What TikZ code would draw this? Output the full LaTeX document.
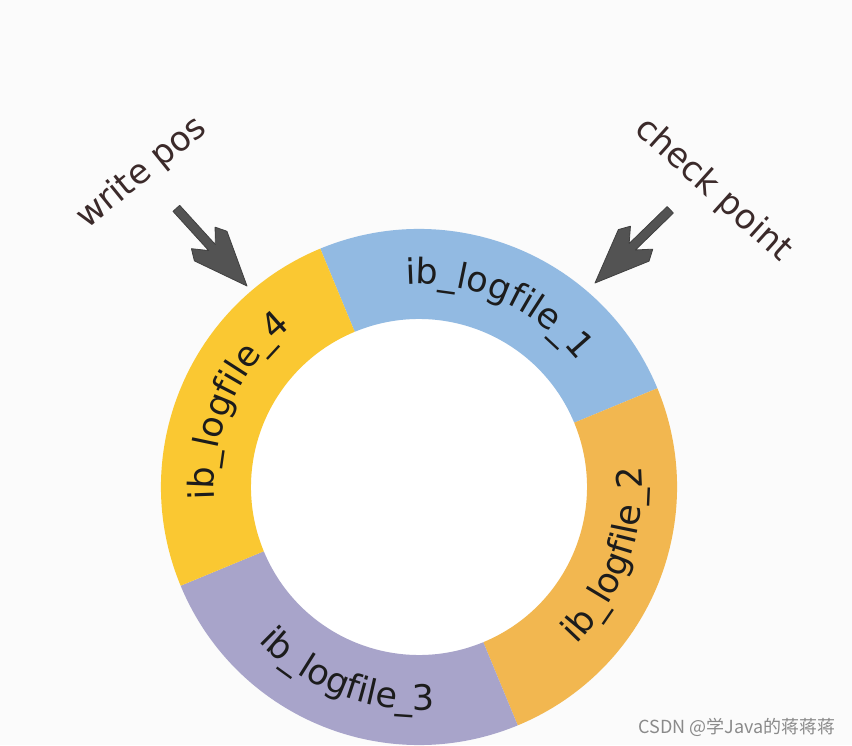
\documentclass[tikz,border=0pt]{standalone}
\usepackage{fontspec}
\setmainfont{DejaVu Sans}
\newfontfamily\cjkfont{Noto Sans CJK SC}
\usetikzlibrary{calc,decorations.text}
\definecolor{bgc}{HTML}{FBFBFB}
\definecolor{segblue}{HTML}{92BAE2}
\definecolor{segyellow}{HTML}{FAC832}
\definecolor{segorange}{HTML}{F2B750}
\definecolor{segpurple}{HTML}{A8A4CA}
\definecolor{ringtext}{HTML}{1C1C1C}
\definecolor{labtext}{HTML}{3B2A2A}
\definecolor{arrowgray}{HTML}{535353}
\definecolor{arrowdark}{HTML}{404040}
\definecolor{wmark}{HTML}{8A8A8A}
\newcommand{\ringfont}{\fontsize{35}{40}\selectfont}
\begin{document}
\begin{tikzpicture}[x=1pt,y=1pt,
  ringlabel/.style={decorate, decoration={text along path, text align=center, text color=ringtext}},
  sidelabel/.style={font=\fontsize{34}{40}\selectfont, text=labtext, inner sep=0pt},
  fatarrow/.pic={\fill[arrowgray, draw=arrowdark, line width=0.8pt, line join=round]
     (0,0) -- (-54,22) -- (-65,16) -- (-52,4.5) -- (-105,4.5) -- (-105,-4.5) -- (-52,-4.5) -- (-65,-16) -- (-54,-22) -- cycle;}
]
\fill[bgc] (0,0) rectangle (852,745);
\useasboundingbox (0,0) rectangle (852,745);
\coordinate (C) at (419,258);
\def\Ro{258}
\def\Ri{168}
\fill[white] (C) circle[radius=\Ri];
% segments
\fill[segblue] ($(C)+(112.5:\Ro)$) arc[start angle=112.5, end angle=22.5, radius=\Ro]
   -- ($(C)+(22.5:\Ri)$) arc[start angle=22.5, end angle=112.5, radius=\Ri] -- cycle;
\fill[segorange] ($(C)+(22.5:\Ro)$) arc[start angle=22.5, end angle=-67.5, radius=\Ro]
   -- ($(C)+(-67.5:\Ri)$) arc[start angle=-67.5, end angle=22.5, radius=\Ri] -- cycle;
\fill[segpurple] ($(C)+(-67.5:\Ro)$) arc[start angle=-67.5, end angle=-157.5, radius=\Ro]
   -- ($(C)+(-157.5:\Ri)$) arc[start angle=-157.5, end angle=-67.5, radius=\Ri] -- cycle;
\fill[segyellow] ($(C)+(202.5:\Ro)$) arc[start angle=202.5, end angle=112.5, radius=\Ro]
   -- ($(C)+(112.5:\Ri)$) arc[start angle=112.5, end angle=202.5, radius=\Ri] -- cycle;
% ring labels
\path[ringlabel, decoration={text={|\ringfont|ib{\_}logfile{\_}1}}]
  ($(C)+(106:203)$) arc[start angle=106, end angle=26, radius=203];
\path[ringlabel, decoration={text={|\ringfont|ib{\_}logfile{\_}4}}]
  ($(C)+(196:205)$) arc[start angle=196, end angle=116, radius=205];
\path[ringlabel, decoration={text={|\ringfont|ib{\_}logfile{\_}2{\,}}}]
  ($(C)+(-59:223)$) arc[start angle=-59, end angle=21, radius=223];
\path[ringlabel, decoration={text={|\ringfont|ib{\_}logfile{\_}3}}]
  ($(C)+(-151:223)$) arc[start angle=-151, end angle=-71, radius=223];
% side labels
\node[sidelabel, rotate=39] (wpos) at (142,572) {write pos};
\node[sidelabel, rotate=-42] (cpt) at (713,555) {check point};
% arrows
\coordinate (wtip) at (247,459);
\coordinate (ctip) at (595,462);
\pic[rotate=-47.7] at (wtip) {fatarrow};
\pic[rotate=224.2] at (ctip) {fatarrow};
% watermark
\node[font=\cjkfont\fontsize{18}{20}\selectfont, text=wmark, anchor=east, inner sep=0pt] (wm) at (836,18) {CSDN @学Java的蒋蒋蒋};
\end{tikzpicture}
\end{document}
